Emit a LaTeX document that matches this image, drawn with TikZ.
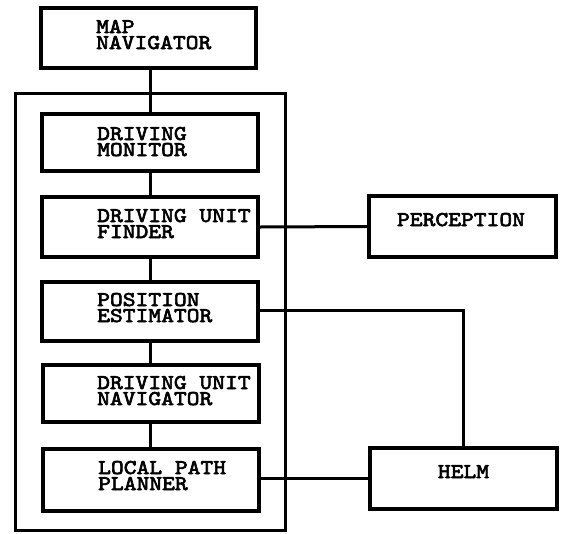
\documentclass[tikz,border=0pt]{standalone}
\usepackage{fontspec}
\newfontfamily\boxfont{lmmono10-regular.otf}[FakeStretch=1.16,FakeBold=3]
\newcommand{\bxf}{\boxfont\fontsize{21}{16}\selectfont}
\newcommand{\twoline}[2]{\vtop{\baselineskip=16pt\hbox{#1}\hbox{#2}}}
\begin{document}
\begin{tikzpicture}[x=1pt,y=-1pt,
  blk/.style={draw=black, line width=4pt, rectangle, inner sep=0pt, minimum width=216pt, minimum height=60pt},
  sidebox/.style={draw=black, line width=4pt, rectangle, inner sep=0pt, minimum width=187pt, minimum height=61pt},
  frame/.style={draw=black, line width=3pt},
  conn/.style={draw=black, line width=3pt},
  lbl/.style={font=\bxf, inner sep=0pt, anchor=base west},
  clbl/.style={font=\bxf, inner sep=0pt, anchor=base}]
\useasboundingbox (0,0) rectangle (561,533);
\fill[white] (0,0) rectangle (561,533);
% outer frame
\draw[frame] (15.5,93.5) rectangle (285.5,530.5);
% boxes
\node[blk, minimum width=215pt] (map) at (148.5,38) {};
\node[blk, minimum height=57pt] (dm) at (150,142.5) {};
\node[blk] (duf) at (150,227) {};
\node[blk, minimum height=59pt] (pe) at (150,311.5) {};
\node[blk, minimum height=57pt] (dun) at (151,393) {};
\node[blk, minimum height=62pt] (lpp) at (151,480) {};
\node[sidebox] (perc) at (462.5,226.5) {};
\node[sidebox] (helm) at (463,478.5) {};
% labels
\node[lbl] (tmap) at (96,33) {\twoline{MAP}{NAVIGATOR}};
\node[lbl] (tdm) at (97,140) {\twoline{DRIVING}{MONITOR}};
\node[lbl] (tduf) at (97,222) {\twoline{DRIVING UNIT}{FINDER}};
\node[lbl] (tpe) at (97,306) {\twoline{POSITION}{ESTIMATOR}};
\node[lbl] (tdun) at (97,389) {\twoline{DRIVING UNIT}{NAVIGATOR}};
\node[lbl] (tlpp) at (98,474) {\twoline{LOCAL PATH}{PLANNER}};
\node[clbl] (tperc) at (461,226) {PERCEPTION};
\node[clbl] (thelm) at (463.5,478) {HELM};
% connectors
\coordinate (pecorner) at (463,310);
\draw[conn] (map.south -| 150,0) -- (dm.north -| 150,0);
\draw[conn] (dm.south -| 150,0) -- (duf.north -| 150,0);
\draw[conn] (duf.south -| 150,0) -- (pe.north -| 150,0);
\draw[conn] (pe.south -| 150,0) -- (dun.north -| 150,0);
\draw[conn] (dun.south -| 150,0) -- (lpp.north -| 150,0);
\draw[conn] (duf.east) -- (perc.west);
\draw[conn] (pe.east |- pecorner) -- (pecorner) -- (helm.north -| pecorner);
\draw[conn] (lpp.east |- 0,478) -- (helm.west |- 0,478);
\end{tikzpicture}
\end{document}
